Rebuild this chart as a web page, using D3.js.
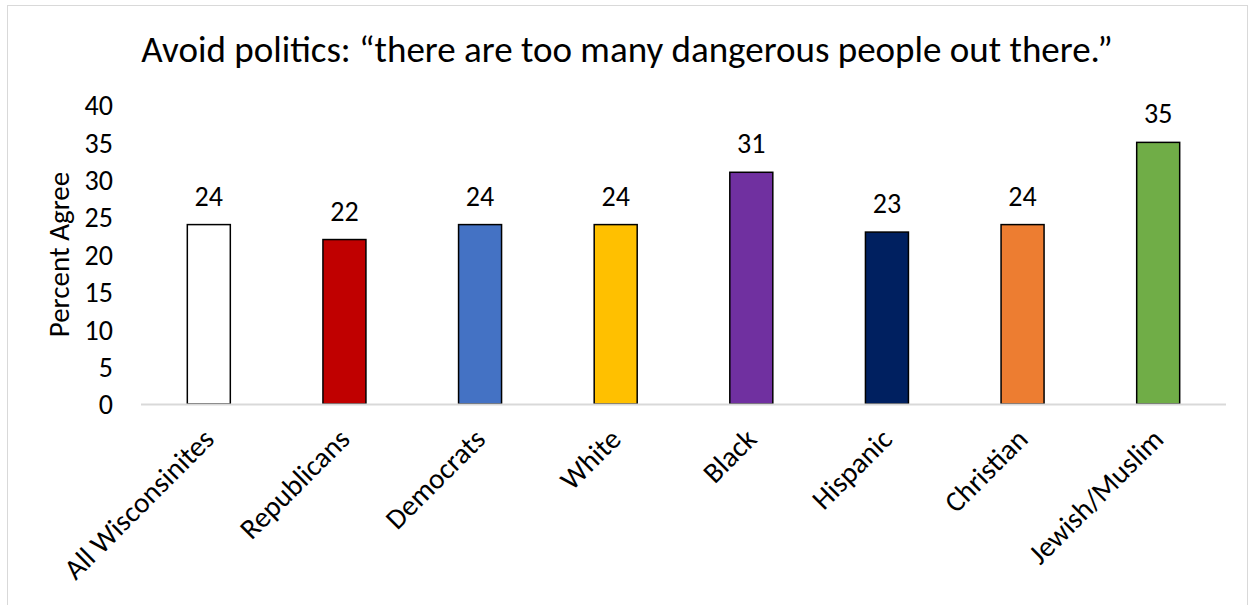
<!DOCTYPE html>
<html>
<head>
<meta charset="utf-8">
<script src="https://d3js.org/d3.v7.min.js"></script>
<style>
  body { margin: 0; background: #fff; }
  text { font-family: Carlito, Calibri, Lato, "Open Sans", sans-serif; fill: #000; }
</style>
</head>
<body>
<svg id="chart" width="1253" height="605"></svg>
<script>
// data
var categories = ["All Wisconsinites", "Republicans", "Democrats", "White", "Black", "Hispanic", "Christian", "Jewish/Muslim"];
var values = [24, 22, 24, 24, 31, 23, 24, 35];
var colors = ["#ffffff", "#c00000", "#4472c4", "#ffc000", "#7030a0", "#002060", "#ed7d31", "#70ad47"];
var yTicks = [0, 5, 10, 15, 20, 25, 30, 35, 40];

var svg = d3.select("#chart");

// outer chart border
svg.append("rect")
  .attr("x", 7.5).attr("y", 5.5)
  .attr("width", 1240).attr("height", 620)
  .attr("fill", "none")
  .attr("stroke", "#d9d9d9");

var plotLeft = 141, plotRight = 1226, plotTop = 105, plotBottom = 404;

var x = d3.scaleBand().domain(categories).range([plotLeft, plotRight]);
var y = d3.scaleLinear().domain([0, 40]).range([plotBottom, plotTop]);
var barW = 43;

// title
svg.append("text")
  .attr("x", 627).attr("y", 62)
  .attr("text-anchor", "middle")
  .style("font-size", "37px")
  .text("Avoid politics: \u201cthere are too many dangerous people out there.\u201d");

// y axis labels
var yAxis = svg.append("g")
  .attr("transform", "translate(" + plotLeft + ",0)")
  .call(d3.axisLeft(y).tickValues(yTicks).tickSize(0).tickPadding(28));
yAxis.select(".domain").remove();
yAxis.selectAll("text")
  .style("font-size", "28px")
  .style("font-family", "Carlito, Calibri, Lato, sans-serif")
  .attr("fill", "#000")
  .attr("dy", "0.35em");

svg.append("text")
  .attr("transform", "translate(69," + ((plotTop + plotBottom) / 2) + ") rotate(-90)")
  .attr("text-anchor", "middle")
  .style("font-size", "29px")
  .text("Percent Agree");

// bars
svg.selectAll("rect.bar")
  .data(values)
  .enter()
  .append("rect")
  .attr("class", "bar")
  .attr("x", function (d, i) { return x(categories[i]) + (x.bandwidth() - barW) / 2; })
  .attr("y", function (d) { return y(d); })
  .attr("width", barW)
  .attr("height", function (d) { return y(0) - y(d); })
  .attr("fill", function (d, i) { return colors[i]; })
  .attr("stroke", "#000")
  .attr("stroke-width", 1.5);

// x axis line
svg.append("line")
  .attr("x1", plotLeft).attr("x2", plotRight)
  .attr("y1", plotBottom + 0.5).attr("y2", plotBottom + 0.5)
  .attr("stroke", "#d9d9d9")
  .attr("stroke-width", 2);

// value labels
svg.selectAll("text.val")
  .data(values)
  .enter()
  .append("text")
  .attr("class", "val")
  .attr("x", function (d, i) { return x(categories[i]) + x.bandwidth() / 2; })
  .attr("y", function (d) { return y(d) - 19; })
  .attr("text-anchor", "middle")
  .style("font-size", "28px")
  .text(function (d) { return d; });

// category labels
svg.selectAll("text.cat")
  .data(categories)
  .enter()
  .append("text")
  .attr("class", "cat")
  .attr("transform", function (d) {
    return "translate(" + (x(d) + x.bandwidth() / 2 + 7) + "," + (plotBottom + 37) + ") rotate(-45)";
  })
  .attr("text-anchor", "end")
  .style("font-size", "29px")
  .text(function (d) { return d; });
</script>
</body>
</html>
